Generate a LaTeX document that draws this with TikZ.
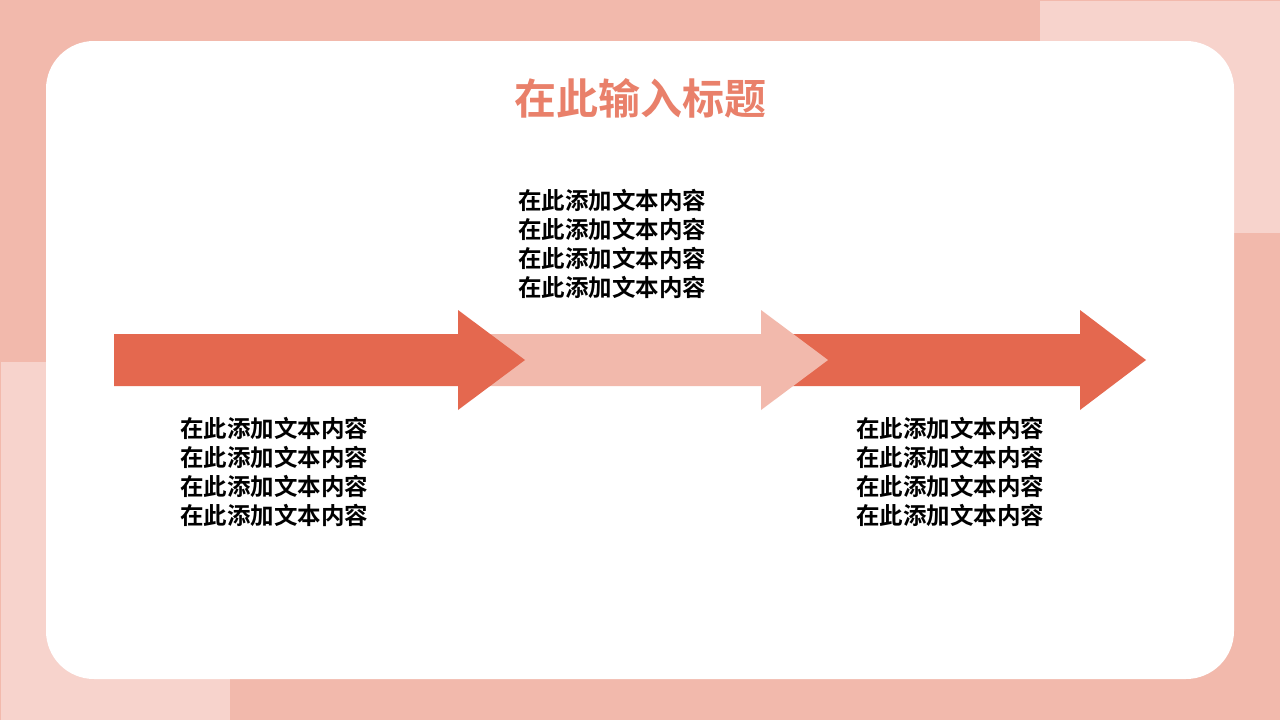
\documentclass[tikz,border=0pt]{standalone}
\usepackage{fontspec}
\newfontfamily\cjk{Noto Sans CJK SC}[BoldFont={* Bold}]
\definecolor{bgA}{HTML}{F2B9AC}
\definecolor{bgB}{HTML}{F7D3CC}
\definecolor{arrDark}{HTML}{E4684F}
\definecolor{arrLight}{HTML}{F2B9AC}
\definecolor{titleC}{HTML}{E9806A}
\tikzset{
  bodytext/.style={font=\cjk\bfseries\fontsize{23.5}{29}\selectfont, align=center, text=black, inner sep=0pt},
  titletext/.style={font=\cjk\bfseries\fontsize{42}{48}\selectfont, text=titleC, inner sep=0pt},
}
\begin{document}
\begin{tikzpicture}[x=1pt,y=-1pt]
\useasboundingbox (0,0) rectangle (1280,720);
% background
\fill[bgA] (0,0) rectangle (1280,720);
\fill[bgB] (1040,1) rectangle (1280,233);
\fill[bgB] (1,362) rectangle (230,720);
% white card
\fill[white, rounded corners=48pt] (46,41) rectangle (1234,679);
% arrows (back to front)
\fill[arrDark] (793,334) -- (1080,334) -- (1080,310) -- (1146,360) -- (1080,410) -- (1080,386) -- (793,386) -- cycle;
\fill[arrLight] (490,334) -- (761,334) -- (761,310) -- (828,360) -- (761,410) -- (761,386) -- (490,386) -- cycle;
\fill[arrDark] (114,334) -- (458,334) -- (458,310) -- (525,360) -- (458,410) -- (458,386) -- (114,386) -- cycle;
% title
\node[titletext] (title) at (640,98) {在此输入标题};
% text blocks
\node[bodytext] (t1) at (274,472) {在此添加文本内容\\在此添加文本内容\\在此添加文本内容\\在此添加文本内容};
\node[bodytext] (t2) at (612,244) {在此添加文本内容\\在此添加文本内容\\在此添加文本内容\\在此添加文本内容};
\node[bodytext] (t3) at (950,472) {在此添加文本内容\\在此添加文本内容\\在此添加文本内容\\在此添加文本内容};
\end{tikzpicture}
\end{document}
